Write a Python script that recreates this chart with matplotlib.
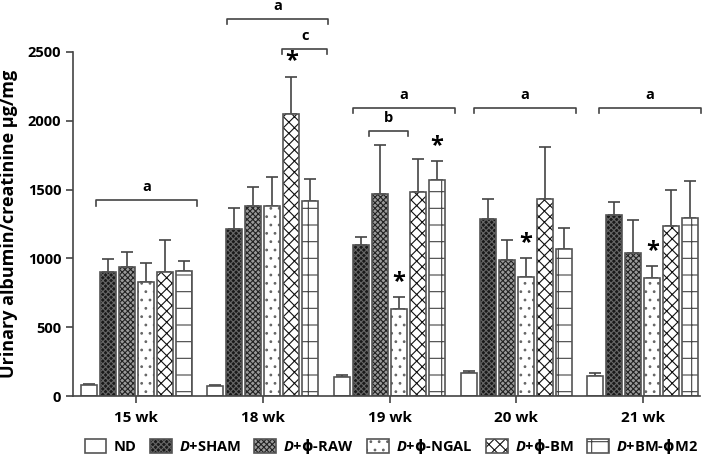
import numpy as np
import matplotlib.pyplot as plt
from matplotlib.colors import to_rgba

plt.rcParams['font.family'] = ['Open Sans', 'DejaVu Sans']
plt.rcParams['font.weight'] = 'bold'
plt.rcParams['mathtext.fontset'] = 'custom'
plt.rcParams['mathtext.rm'] = 'Open Sans:bold'
plt.rcParams['mathtext.it'] = 'Open Sans:italic:bold'
plt.rcParams['mathtext.bf'] = 'Open Sans:bold'
plt.rcParams['mathtext.sf'] = 'DejaVu Sans:bold'
plt.rcParams['hatch.linewidth'] = 0.8

weeks = ["15 wk", "18 wk", "19 wk", "20 wk", "21 wk"]
groups = ["ND", r"$\it{D}$+SHAM", r"$\it{D}$+$\mathsf{ϕ}$-RAW",
          r"$\it{D}$+$\mathsf{ϕ}$-NGAL", r"$\it{D}$+$\mathsf{ϕ}$-BM",
          r"$\it{D}$+BM-$\mathsf{ϕ}$M2"]

nd = [80, 73, 140, 165, 148]
sham = [899, 1211, 1095, 1289, 1315]
raw = [937, 1383, 1468, 988, 1041]
ngal = [831, 1381, 632, 863, 855]
bm = [903, 2047, 1480, 1432, 1235]
m2 = [911, 1415, 1570, 1066, 1296]

nd_err = [6, 5, 12, 15, 17]
sham_err = [94, 153, 58, 143, 93]
raw_err = [112, 138, 354, 146, 238]
ngal_err = [133, 208, 85, 137, 90]
bm_err = [231, 274, 245, 380, 262]
m2_err = [68, 164, 136, 153, 269]

means = [nd, sham, raw, ngal, bm, m2]
errs = [nd_err, sham_err, raw_err, ngal_err, bm_err, m2_err]

faces = ["white", "#1a1a1a", "#9a9a9a", "white", "white", "white"]
hatches = [None, "xxxxxx", "xxxxxx", "..", "xxx", "+"]
hatch_cols = ["#555555", "#666666", "#222222", "#666666", "#111111", "#444444"]

# significance marks: (week index, bar index)
stars = [(1, 4), (2, 3), (2, 5), (3, 3), (4, 3)]

fig = plt.figure(figsize=(7.09, 4.59), dpi=100)
ax = fig.add_axes([0.103, 0.137, 0.884, 0.750])

x = np.arange(len(weeks))
width = 0.126
step = 0.15
for i in range(len(groups)):
    pos = x + (i - 2.5) * step
    bars = ax.bar(pos, means[i], width, color=faces[i], edgecolor="#555555",
                  linewidth=1.2, hatch=hatches[i], label=groups[i], zorder=2)
    for b in bars:
        b._hatch_color = to_rgba(hatch_cols[i])
    ax.errorbar(pos, means[i], yerr=[np.zeros(len(weeks)), errs[i]], fmt="none",
                ecolor="#444444", elinewidth=1.2, capsize=4, capthick=1.2, zorder=1)

for w, g in stars:
    ax.text(w + (g - 2.5) * step, means[g][w] + errs[g][w] + 110, "*",
            ha="center", va="center", fontsize=17, fontweight="bold")


def bracket(x0, x1, y, label, tick=40):
    ax.plot([x0, x0, x1, x1], [y - tick, y, y, y - tick], color="#444444",
            lw=1.2, clip_on=False)
    ax.text((x0 + x1) / 2, y + 95, label, ha="center", va="center",
            fontsize=10.5, fontweight="bold")


bracket(-0.316, 0.481, 1424, "a")
bracket(0.718, 1.515, 2740, "a")
bracket(1.152, 1.507, 2522, "c")
bracket(1.712, 2.517, 2093, "a")
bracket(1.838, 2.146, 1926, "b")
bracket(2.667, 3.471, 2093, "a")
bracket(3.653, 4.458, 2093, "a")

ax.set_xlim(-0.5, 4.45)
ax.set_ylim(0, 2500)
ax.set_xticks(x)
ax.set_xticklabels(weeks, fontsize=11, fontweight="bold")
ax.set_yticks([0, 500, 1000, 1500, 2000, 2500])
ax.tick_params(axis="y", labelsize=10.5, width=1.2, length=5, color="#444444")
ax.tick_params(axis="x", width=1.2, length=5, color="#444444", pad=6)
for lab in ax.get_yticklabels():
    lab.set_fontweight("bold")
ax.set_ylabel("Urinary albumin/creatinine µg/mg", fontsize=13,
              fontweight="bold", labelpad=7)
for s in ["top", "right"]:
    ax.spines[s].set_visible(False)
for s in ["left", "bottom"]:
    ax.spines[s].set_linewidth(1.2)
    ax.spines[s].set_color("#444444")

handles, labels = ax.get_legend_handles_labels()
fig.legend(handles, labels, loc="lower center", bbox_to_anchor=(0.552, -0.022),
           ncol=6, frameon=False, fontsize=10.5, handlelength=1.5,
           handleheight=1.1, columnspacing=0.9, handletextpad=0.5)

fig.savefig("out.png", dpi=100)
